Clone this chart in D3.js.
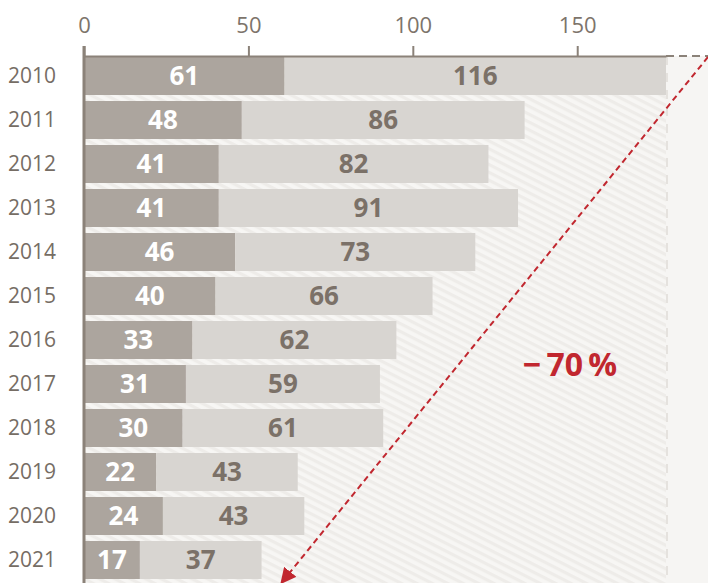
<!DOCTYPE html>
<html>
<head>
<meta charset="utf-8">
<script src="https://cdn.jsdelivr.net/npm/d3@7"></script>
<style>
  body { margin: 0; background: #fff; }
  svg { display: block; font-family: "Open Sans", sans-serif; }
</style>
</head>
<body>
<div id="chart"></div>
<script>
// 데이터
const years = ["2010", "2011", "2012", "2013", "2014", "2015", "2016", "2017", "2018", "2019", "2020", "2021"];
const darkValues = [61, 48, 41, 41, 46, 40, 33, 31, 30, 22, 24, 17];
const lightValues = [116, 86, 82, 91, 73, 66, 62, 59, 61, 43, 43, 37];
const xTicks = [0, 50, 100, 150];
const changeLabel = "\u2212\u200970\u2009%";

const width = 708;
const height = 583;
const axisY = 56;

const data = years.map((y, i) => ({ year: y, dark: darkValues[i], light: lightValues[i] }));
const maxTotal = d3.max(data, d => d.dark + d.light);

const svg = d3.select("#chart")
    .append("svg")
    .attr("width", width)
    .attr("height", height);

const xScale = d3.scaleLinear()
    .domain([0, maxTotal])
    .range([84, 666]);

const yScale = d3.scaleBand()
    .domain(years)
    .range([57, 579])
    .paddingInner(0.136)
    .paddingOuter(0);

// 배경 해칭
const defs = svg.append("defs");
const pat = defs.append("pattern")
    .attr("id", "hatch")
    .attr("patternUnits", "userSpaceOnUse")
    .attr("width", 8)
    .attr("height", 7)
    .attr("patternTransform", "rotate(27)");
pat.append("rect").attr("width", 8).attr("height", 7).attr("fill", "#f7f6f4");
pat.append("rect").attr("width", 8).attr("height", 3.2).attr("fill", "#eeece9");

svg.append("rect")
    .attr("x", xScale(maxTotal))
    .attr("y", axisY)
    .attr("width", width - xScale(maxTotal))
    .attr("height", height - axisY)
    .attr("fill", "#f6f5f3");

svg.append("rect")
    .attr("x", xScale(0))
    .attr("y", axisY)
    .attr("width", xScale(maxTotal) - xScale(0))
    .attr("height", height - axisY)
    .attr("fill", "url(#hatch)");

svg.append("line")
    .attr("x1", xScale(maxTotal) + 1).attr("x2", xScale(maxTotal) + 1)
    .attr("y1", axisY).attr("y2", height)
    .attr("stroke", "#e5e2de")
    .attr("stroke-width", 2)
    .attr("stroke-dasharray", "9,8");

// 막대
const rows = svg.selectAll("g.row")
    .data(data)
    .enter()
    .append("g")
    .attr("class", "row");

rows.append("rect")
    .attr("x", xScale(0))
    .attr("y", d => yScale(d.year))
    .attr("width", d => xScale(d.dark) - xScale(0))
    .attr("height", yScale.bandwidth())
    .attr("fill", "#aca59e");

rows.append("rect")
    .attr("x", d => xScale(d.dark))
    .attr("y", d => yScale(d.year))
    .attr("width", d => xScale(d.dark + d.light) - xScale(d.dark))
    .attr("height", yScale.bandwidth())
    .attr("fill", "#d8d5d1");

rows.append("text")
    .attr("x", d => (xScale(0) + xScale(d.dark)) / 2)
    .attr("y", d => yScale(d.year) + yScale.bandwidth() / 2)
    .attr("dy", "0.36em")
    .attr("text-anchor", "middle")
    .style("font-size", "26px")
    .style("font-weight", "700")
    .style("fill", "#ffffff")
    .text(d => d.dark);

rows.append("text")
    .attr("x", d => (xScale(d.dark) + xScale(d.dark + d.light)) / 2)
    .attr("y", d => yScale(d.year) + yScale.bandwidth() / 2)
    .attr("dy", "0.36em")
    .attr("text-anchor", "middle")
    .style("font-size", "26px")
    .style("font-weight", "700")
    .style("fill", "#7b7168")
    .text(d => d.light);

// 연도 라벨
rows.append("text")
    .attr("x", 8)
    .attr("y", d => yScale(d.year) + yScale.bandwidth() / 2)
    .attr("dy", "0.35em")
    .style("font-size", "21px")
    .style("fill", "#766d64")
    .text(d => d.year);

// 축
const xAxis = d3.axisTop(xScale)
    .tickValues(xTicks)
    .tickSizeInner(10)
    .tickSizeOuter(0)
    .tickPadding(13);

const xAxisGroup = svg.append("g")
    .attr("transform", `translate(0, ${axisY})`)
    .call(xAxis);

xAxisGroup.select(".domain").attr("stroke", "#8b8279").attr("stroke-width", 2);
xAxisGroup.selectAll(".tick line").attr("stroke", "#8b8279").attr("stroke-width", 2);
xAxisGroup.selectAll(".tick text")
    .style("font-size", "22px")
    .style("font-family", "'Open Sans', sans-serif")
    .attr("fill", "#7d746b");

svg.append("line")
    .attr("x1", xScale(maxTotal)).attr("x2", width)
    .attr("y1", axisY).attr("y2", axisY)
    .attr("stroke", "#8b8279")
    .attr("stroke-width", 2)
    .attr("stroke-dasharray", "8,5");

svg.append("line")
    .attr("x1", xScale(0)).attr("x2", xScale(0))
    .attr("y1", axisY - 10).attr("y2", height)
    .attr("stroke", "#8b8279")
    .attr("stroke-width", 3);

// 화살표
defs.append("marker")
    .attr("id", "arrow")
    .attr("viewBox", "0 0 10 10")
    .attr("refX", 9)
    .attr("refY", 5)
    .attr("markerWidth", 8)
    .attr("markerHeight", 8)
    .attr("orient", "auto")
    .append("path")
    .attr("d", "M0,0 L10,5 L0,10 Z")
    .attr("fill", "#c1272f");

svg.append("line")
    .attr("x1", width)
    .attr("y1", axisY + 1)
    .attr("x2", xScale(60))
    .attr("y2", height)
    .attr("stroke", "#c1272f")
    .attr("stroke-width", 2)
    .attr("stroke-dasharray", "6,4")
    .attr("marker-end", "url(#arrow)");

svg.append("text")
    .attr("x", 570)
    .attr("y", 376)
    .attr("text-anchor", "middle")
    .style("font-size", "32px")
    .style("font-weight", "700")
    .style("fill", "#c1272f")
    .text(changeLabel);
</script>
</body>
</html>
